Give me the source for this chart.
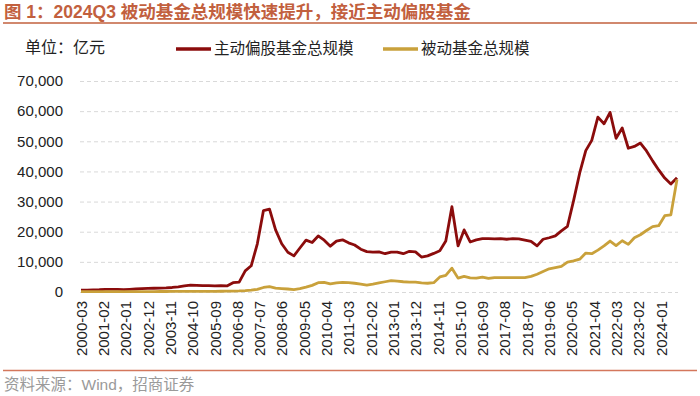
<!DOCTYPE html>
<html>
<head>
<meta charset="utf-8">
<script src="https://cdn.jsdelivr.net/npm/d3@7"></script>
<style>
  body { margin: 0; background: #fff; }
  svg { font-family: "Liberation Sans", "Noto Sans CJK SC", sans-serif; }
</style>
</head>
<body>
<div id="chart"></div>
<script>
// DATA (quarter ends, 2000-03 .. 2024-09, unit: 亿元)
const firstQuarter = "2000-03";
const quarterCount = 99;

const activeEquity = [
  600, 650, 700, 750, 850, 900, 850, 800, 900, 1000,
  1100, 1200, 1250, 1300, 1350, 1500, 1700, 2000, 2300, 2200,
  2100, 2100, 2000, 2100, 2000, 3100, 3300, 7000, 8700, 16000,
  27000, 27500, 20600, 16000, 13200, 12000, 14600, 17200, 16400, 18600,
  17200, 15200, 16900, 17300, 16300, 15600, 14200, 13400, 13200, 13300,
  12700, 13200, 13200, 12700, 13500, 13300, 11600, 12000, 12800, 13700,
  16900, 28300, 15300, 20600, 16600, 17300, 17700, 17700, 17600, 17700,
  17500, 17700, 17600, 17200, 16800, 15300, 17500, 18000, 18600, 20300,
  21800, 30300, 39500, 46900, 50300, 58000, 55800, 59600, 51000, 54400,
  47700, 48300, 49400, 46800, 43500, 40500, 37800, 35800, 37900
];

const passive = [
  100, 100, 100, 100, 100, 120, 120, 120, 130, 130,
  140, 150, 150, 160, 170, 180, 190, 200, 200, 210,
  220, 230, 240, 250, 260, 300, 350, 450, 600, 900,
  1500, 1800, 1300, 1150, 1000, 800, 1100, 1600, 2200, 3100,
  3200, 2700, 3000, 3200, 3100, 2900, 2600, 2300, 2600, 3000,
  3400, 3800, 3600, 3400, 3300, 3300, 3000, 2900, 3100, 5000,
  5500, 7900, 4600, 5200, 4700, 4600, 4900, 4500, 4800, 4800,
  4750, 4750, 4750, 4800, 5200, 5900, 6800, 7700, 8100, 8500,
  9900, 10300, 10900, 12900, 12700, 13900, 15300, 16900, 15400, 17000,
  15800, 18000, 19000, 20400, 21700, 22000, 25300, 25600, 37300
];

const tickLabels = [
  "2000-03", "2001-02", "2002-01", "2002-12", "2003-11", "2004-10", "2005-09",
  "2006-08", "2007-07", "2008-06", "2009-05", "2010-04", "2011-03", "2012-02",
  "2013-01", "2013-12", "2014-11", "2015-10", "2016-09", "2017-08", "2018-07",
  "2019-06", "2020-05", "2021-04", "2022-03", "2023-02", "2024-01"
];

const yTicks = [0, 10000, 20000, 30000, 40000, 50000, 60000, 70000];

const seriesNames = ["主动偏股基金总规模", "被动基金总规模"];
const seriesColors = ["#8b0c0c", "#c9a13b"];

// LAYOUT
const width = 700;
const height = 396;
const plot = { left: 80, right: 678, top: 81, bottom: 292 };
const parseMonth = d3.timeParse("%Y-%m");
const fmtMonth = d3.timeFormat("%Y-%m");

const quarterDates = d3.range(quarterCount).map(i =>
  d3.timeMonth.offset(parseMonth(firstQuarter), i * 3)
);

const xScale = d3
  .scaleTime()
  .domain([quarterDates[0], quarterDates[quarterDates.length - 1]])
  .range([81, 677]);

const yScale = d3
  .scaleLinear()
  .domain([0, 70000])
  .range([plot.bottom, plot.top]);

const svg = d3
  .select("#chart")
  .append("svg")
  .attr("width", width)
  .attr("height", height);

// TITLE
const accent = "#c2603e";
svg
  .append("text")
  .attr("x", 4)
  .attr("y", 18)
  .attr("fill", accent)
  .style("font-size", "17.5px")
  .style("font-weight", "bold")
  .text("图 1：2024Q3 被动基金总规模快速提升，接近主动偏股基金");

svg
  .append("line")
  .attr("x1", 3)
  .attr("x2", 697)
  .attr("y1", 23)
  .attr("y2", 23)
  .attr("stroke", accent)
  .attr("stroke-width", 1.5);

// UNIT + LEGEND
svg
  .append("text")
  .attr("x", 25)
  .attr("y", 53)
  .attr("fill", "#222")
  .style("font-size", "16px")
  .text("单位：亿元");

const legendX = [176, 383];
seriesNames.forEach((name, i) => {
  const g = svg.append("g").attr("transform", `translate(${legendX[i]},49)`);
  g.append("line")
    .attr("x1", 0)
    .attr("x2", 35)
    .attr("stroke", seriesColors[i])
    .attr("stroke-width", 3.5);
  g.append("text")
    .attr("x", 38)
    .attr("y", 5)
    .attr("fill", "#222")
    .style("font-size", "15.5px")
    .text(name);
});

// GRID + Y AXIS
const yAxis = d3
  .axisLeft(yScale)
  .tickValues(yTicks)
  .tickSize(-(plot.right - plot.left))
  .tickPadding(17)
  .tickFormat(d3.format(","));

svg
  .append("g")
  .attr("transform", `translate(${plot.left},0)`)
  .call(yAxis)
  .call(g => g.select(".domain").remove())
  .call(g =>
    g.selectAll(".tick line")
      .attr("stroke", "#d9d9d9")
      .attr("stroke-dasharray", "4,3")
  )
  .call(g =>
    g.selectAll(".tick text")
      .attr("fill", "#222")
      .style("font-size", "15px")
  );

// X AXIS
const xAxis = d3
  .axisBottom(xScale)
  .tickValues(tickLabels.map(parseMonth))
  .tickSize(0)
  .tickFormat(fmtMonth);

svg
  .append("g")
  .attr("transform", `translate(0,${plot.bottom})`)
  .call(xAxis)
  .call(g => g.select(".domain").remove())
  .call(g =>
    g.selectAll(".tick text")
      .attr("fill", "#222")
      .style("font-size", "15px")
      .attr("text-anchor", "end")
      .attr("transform", "rotate(-90)")
      .attr("x", -9)
      .attr("y", 0)
      .attr("dy", "0.35em")
  );

// LINES
const lineGen = d3
  .line()
  .x((d, i) => xScale(quarterDates[i]))
  .y(d => yScale(d));

[activeEquity, passive].forEach((values, i) => {
  svg
    .append("path")
    .datum(values)
    .attr("fill", "none")
    .attr("stroke", seriesColors[i])
    .attr("stroke-width", 2.8)
    .attr("stroke-linejoin", "round")
    .attr("d", lineGen);
});

// FOOTER
svg
  .append("line")
  .attr("x1", 3)
  .attr("x2", 697)
  .attr("y1", 370.5)
  .attr("y2", 370.5)
  .attr("stroke", "#d4775c")
  .attr("stroke-width", 1.5);

svg
  .append("text")
  .attr("x", 4)
  .attr("y", 390)
  .attr("fill", "#9a9a9a")
  .style("font-size", "15.5px")
  .text("资料来源：Wind，招商证券");
</script>
</body>
</html>
